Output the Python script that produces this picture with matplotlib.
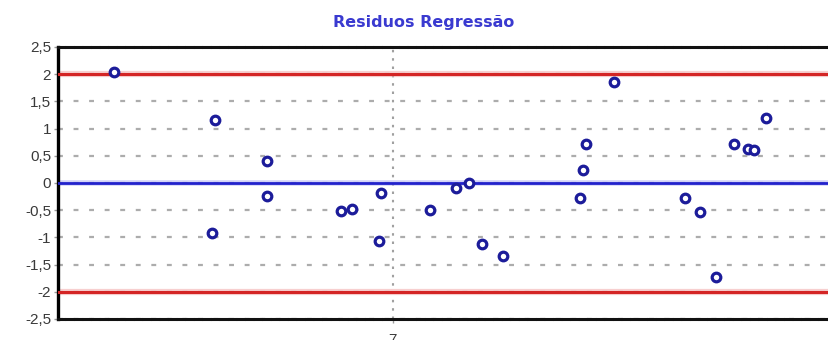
import matplotlib
matplotlib.use("Agg")
import matplotlib.pyplot as plt
from matplotlib.ticker import FixedLocator

# Fitted values (x) and regression residuals (y)
fitted = [6.421, 6.631, 6.624, 6.739, 6.738, 6.892, 6.915, 6.975, 6.972, 7.077,
          7.130, 7.158, 7.185, 7.228, 7.389, 7.394, 7.401, 7.459, 7.607, 7.638,
          7.671, 7.708, 7.736, 7.749, 7.774]
residuals = [2.04, 1.16, -0.92, 0.41, -0.23, -0.51, -0.48, -0.18, -1.07, -0.49,
             -0.10, 0.00, -1.13, -1.34, -0.27, 0.24, 0.71, 1.86, -0.27, -0.53,
             -1.73, 0.71, 0.63, 0.60, 1.19]

limits = [-2, 2]
y_ticks = [-2.5, -2, -1.5, -1, -0.5, 0, 0.5, 1, 1.5, 2, 2.5]
y_tick_labels = ["-2,5", "-2", "-1,5", "-1", "-0,5", "0", "0,5", "1", "1,5", "2", "2,5"]
x_ticks = [7]
x_tick_labels = ["7"]
title = "Residuos Regressão"

W, H = 829, 340
fig = plt.figure(figsize=(W / 100, H / 100), dpi=100)
fig.patch.set_facecolor("white")
ax = fig.add_axes([58 / W, 1 - 319 / H, 1 - 58 / W, (319 - 47) / H])
ax.set_facecolor("white")

ax.set_xlim(6.305, 7.905)
ax.set_ylim(-2.5, 2.5)

ax.yaxis.set_major_locator(FixedLocator(y_ticks))
ax.set_yticklabels(y_tick_labels)
ax.xaxis.set_major_locator(FixedLocator(x_ticks))
ax.set_xticklabels(x_tick_labels)
ax.tick_params(axis="y", length=3, width=1, color="#999999", labelsize=11,
               labelcolor="#3a3a3a", pad=2)
ax.tick_params(axis="x", length=3, width=1, color="#999999", labelsize=11,
               labelcolor="#3a3a3a", pad=7)
for lbl in ax.get_yticklabels() + ax.get_xticklabels():
    lbl.set_family("Liberation Sans")

# dashed light-gray grid
ax.grid(True, axis="y", color="#acacac", linestyle=(0, (2.2, 4.8)), linewidth=1.6, zorder=0)
ax.grid(True, axis="x", color="#a0a0a0", linestyle=(0, (1.2, 2.8)), linewidth=1.5, zorder=0)

# frame: solid left, dashed top/bottom, no right
ax.spines["right"].set_visible(False)
ax.spines["left"].set_linewidth(2.4)
ax.spines["left"].set_color("black")
for side in ("top", "bottom"):
    ax.spines[side].set_linewidth(2.2)
    ax.spines[side].set_color("#111111")
    ax.spines[side].set_linestyle((0, (2.0, 0.8)))

# control limits and zero line
for lim in limits:
    ax.axhline(lim, color="#f0a0a0", linewidth=4.5, alpha=0.5, zorder=2)
    ax.axhline(lim, color="#d42525", linewidth=2.2, zorder=3)
ax.axhline(0, color="#a8a8f0", linewidth=4.0, alpha=0.5, zorder=2)
ax.axhline(0, color="#2222cc", linewidth=2.0, zorder=3)

ax.plot(fitted, residuals, linestyle="none", marker="o", markersize=6.2,
        markerfacecolor="white", markeredgecolor="#1c1c9a", markeredgewidth=2.3,
        zorder=5)

fig.text(424 / W, 1 - 23 / H, title, ha="center", va="center", fontsize=11.5,
         fontweight="bold", color="#3a3ad0", family="DejaVu Sans")

fig.savefig("out.png", dpi=100, facecolor="white")
